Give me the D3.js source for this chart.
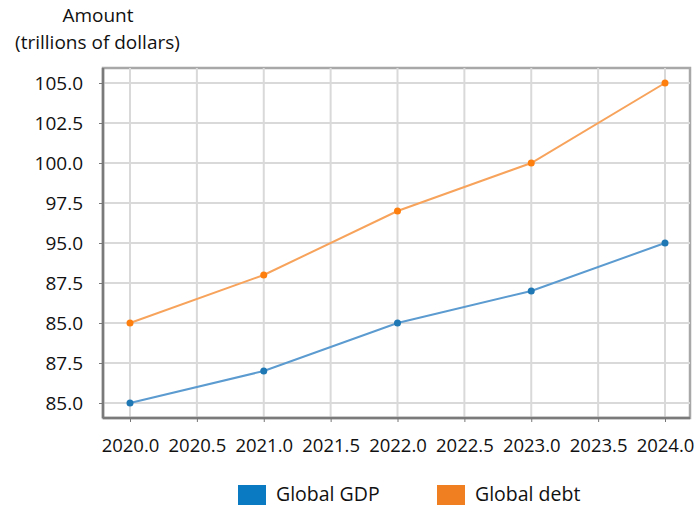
<!DOCTYPE html>
<html><head><meta charset="utf-8">
<script src="https://cdn.jsdelivr.net/npm/d3@7"></script>
<style>body{margin:0;background:#fff;} text{font-family:"Open Sans","Noto Sans",sans-serif;fill:#111;}</style>
</head><body><svg id="c" width="695" height="507"></svg>
<script>
const years = [2020, 2021, 2022, 2023, 2024];
const gdp = [85, 87, 90, 92, 95];
const debt = [90, 93, 97, 100, 105];
const xTicks = [2020, 2020.5, 2021, 2021.5, 2022, 2022.5, 2023, 2023.5, 2024];
const yTicks = [85, 87.5, 90, 92.5, 95, 97.5, 100, 102.5, 105];
const yTickLabels = ["85.0", "87.5", "85.0", "87.5", "95.0", "97.5", "100.0", "102.5", "105.0"];
const seriesNames = ["Global GDP", "Global debt"];

(function () {
const svg = d3.select("#c");
const pL = 103, pR = 690, pT = 68, pB = 418;
const x = d3.scaleLinear().domain([2020, 2024]).range([130, 665]);
const y = d3.scaleLinear().domain([85, 105]).range([403, 83]);

svg.append("rect").attr("x", pL).attr("y", pT).attr("width", pR - pL).attr("height", pB - pT)
  .attr("fill", "#fff").attr("stroke", "#a8a8a8").attr("stroke-width", 2.5);

svg.append("g").selectAll("line").data(xTicks).join("line")
  .attr("x1", d => x(d)).attr("x2", d => x(d)).attr("y1", pT).attr("y2", pB)
  .attr("stroke", "#d9d9d9").attr("stroke-width", 2);
svg.append("g").selectAll("line").data(yTicks).join("line")
  .attr("y1", d => y(d)).attr("y2", d => y(d)).attr("x1", pL).attr("x2", pR)
  .attr("stroke", "#d9d9d9").attr("stroke-width", 2);

const xAxis = d3.axisBottom(x).tickValues(xTicks).tickFormat(d3.format(".1f")).tickSize(4).tickPadding(17);
const gx = svg.append("g").attr("transform", `translate(0,${pB})`).call(xAxis);
gx.select(".domain").attr("d", `M${pL},0H${pR}`).attr("stroke", "#7a7a7a").attr("stroke-width", 2.5);
gx.selectAll(".tick line").attr("stroke", "#777");
gx.selectAll("text").style("font-size", "18.5px").attr("fill", "#111");

const yAxis = d3.axisLeft(y).tickValues(yTicks).tickFormat((d, i) => yTickLabels[i]).tickSize(4).tickPadding(16);
const gy = svg.append("g").attr("transform", `translate(${pL},0)`).call(yAxis);
gy.select(".domain").attr("d", `M0,${pT}V${pB}`).attr("stroke", "#7a7a7a").attr("stroke-width", 2.5);
gy.selectAll(".tick line").attr("stroke", "#777");
gy.selectAll("text").style("font-size", "19px").attr("fill", "#111");

const colors = ["#1f77b4", "#ff7f0e"];
const lineColors = ["#5b9bd0", "#f7a35c"];
[gdp, debt].forEach((vals, k) => {
  const pts = years.map((yr, i) => [yr, vals[i]]);
  svg.append("path").datum(pts)
    .attr("d", d3.line().x(d => x(d[0])).y(d => y(d[1])))
    .attr("fill", "none").attr("stroke", lineColors[k]).attr("stroke-width", 2);
  svg.append("g").selectAll("circle").data(pts).join("circle")
    .attr("cx", d => x(d[0])).attr("cy", d => y(d[1])).attr("r", 3.5).attr("fill", colors[k]);
});

svg.append("text").attr("x", 98).attr("y", 22).attr("text-anchor", "middle").style("font-size", "19px").text("Amount");
svg.append("text").attr("x", 97.5).attr("y", 49).attr("text-anchor", "middle").style("font-size", "19px").text("(trillions of dollars)");

const legColors = ["#0a7bc2", "#f07f22"];
const legX = [238, 437];
seriesNames.forEach((n, i) => {
  svg.append("rect").attr("x", legX[i]).attr("y", 485).attr("width", 28).attr("height", 20).attr("fill", legColors[i]);
  svg.append("text").attr("x", legX[i] + 38).attr("y", 501).style("font-size", "19.5px").text(n);
});
})();
</script></body></html>
